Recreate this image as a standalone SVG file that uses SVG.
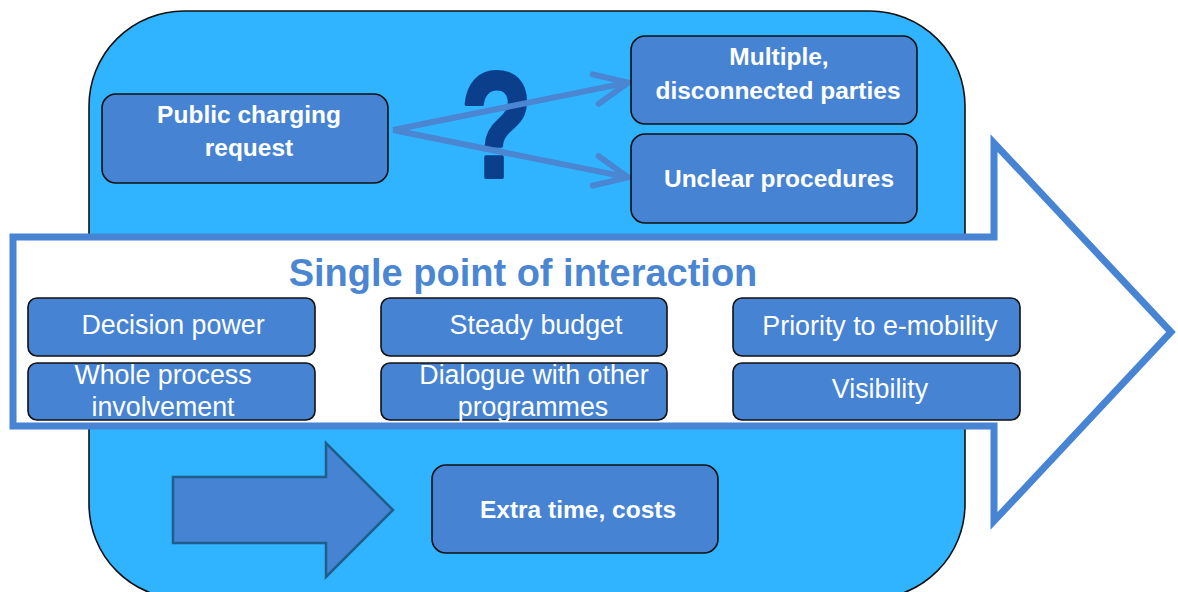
<svg xmlns="http://www.w3.org/2000/svg" width="1178" height="592" viewBox="0 0 1178 592">
  <defs>
    <style>
      .node { fill: #4683d3; stroke: #111; stroke-width: 1.6; }
      .bold { font-family: "Liberation Sans", Arial, sans-serif; font-weight: bold; font-size: 24.5px; fill: #ffffff; text-anchor: middle; }
      .reg { font-family: "Liberation Sans", Arial, sans-serif; font-size: 26.8px; fill: #ffffff; text-anchor: middle; }
      .conn { stroke: #4a86d2; stroke-width: 6; fill: none; }
    </style>
    <marker id="chev" markerUnits="userSpaceOnUse" markerWidth="60" markerHeight="60" viewBox="-40 -30 60 60" refX="0" refY="0" orient="auto" overflow="visible">
      <path d="M-33,-15 L0,0 L-33,15" fill="none" stroke="#4a86d2" stroke-width="6" stroke-linecap="round" stroke-linejoin="miter"/>
    </marker>
  </defs>

  <rect width="1178" height="592" fill="#ffffff"/>

  <g id="background-panel">
    <rect x="89" y="11" width="876" height="588" rx="95" ry="95" fill="#31b4ff" stroke="#111" stroke-width="1.6"/>
  </g>

  <g id="question-mark">
    <text transform="translate(496.5,177) scale(0.78,1)" x="0" y="0" font-family="Liberation Sans, Arial, sans-serif" font-weight="bold" font-size="150" fill="#0b3f8c" stroke="#0b3f8c" stroke-width="4" stroke-linejoin="round" text-anchor="middle">?</text>
  </g>

  <g id="connectors">
    <line class="conn" x1="393" y1="130" x2="628" y2="82.6" marker-end="url(#chev)"/>
    <line class="conn" x1="393" y1="130" x2="628" y2="177.4" marker-end="url(#chev)"/>
  </g>

  <g id="node-public-charging">
    <rect class="node" x="102" y="94" width="286" height="89" rx="14"/>
    <text class="bold" x="249" y="123">Public charging</text>
    <text class="bold" x="249" y="156">request</text>
  </g>

  <g id="node-multiple-parties">
    <rect class="node" x="631" y="36" width="286" height="88" rx="14"/>
    <text class="bold" x="779" y="65">Multiple,</text>
    <text class="bold" x="778" y="99">disconnected parties</text>
  </g>

  <g id="node-unclear-procedures">
    <rect class="node" x="631" y="134" width="286" height="89" rx="14"/>
    <text class="bold" x="779" y="187">Unclear procedures</text>
  </g>

  <g id="big-arrow">
    <path d="M13,237 H994 V143 L1171,332 L994,521 V426 H13 Z" fill="#ffffff" stroke="#4784d4" stroke-width="7" stroke-linejoin="miter"/>
    <text x="523" y="286" font-family="Liberation Sans, Arial, sans-serif" font-weight="bold" font-size="38" fill="#4a86d2" text-anchor="middle">Single point of interaction</text>
  </g>

  <g id="node-decision-power">
    <rect class="node" x="28" y="298" width="287" height="58" rx="9"/>
    <text class="reg" x="173" y="334">Decision power</text>
  </g>
  <g id="node-whole-process">
    <rect class="node" x="28" y="363" width="287" height="57" rx="9"/>
    <text class="reg" x="163" y="384">Whole process</text>
    <text class="reg" x="163" y="416">involvement</text>
  </g>
  <g id="node-steady-budget">
    <rect class="node" x="381" y="298" width="286" height="58" rx="9"/>
    <text class="reg" x="536" y="334">Steady budget</text>
  </g>
  <g id="node-dialogue">
    <rect class="node" x="381" y="363" width="286" height="57" rx="9"/>
    <text class="reg" x="534" y="384">Dialogue with other</text>
    <text class="reg" x="533" y="416">programmes</text>
  </g>
  <g id="node-priority">
    <rect class="node" x="733" y="298" width="287" height="58" rx="9"/>
    <text class="reg" x="880" y="335">Priority to e-mobility</text>
  </g>
  <g id="node-visibility">
    <rect class="node" x="733" y="363" width="287" height="57" rx="9"/>
    <text class="reg" x="880" y="398">Visibility</text>
  </g>

  <g id="block-arrow">
    <path d="M173,477 H326 V443 L393,510 L326,577 V543 H173 Z" fill="#4683d3" stroke="#1f5e8a" stroke-width="2.5" stroke-linejoin="miter"/>
  </g>

  <g id="node-extra-time">
    <rect class="node" x="432" y="465" width="286" height="88" rx="14"/>
    <text class="bold" x="578" y="518">Extra time, costs</text>
  </g>
</svg>
